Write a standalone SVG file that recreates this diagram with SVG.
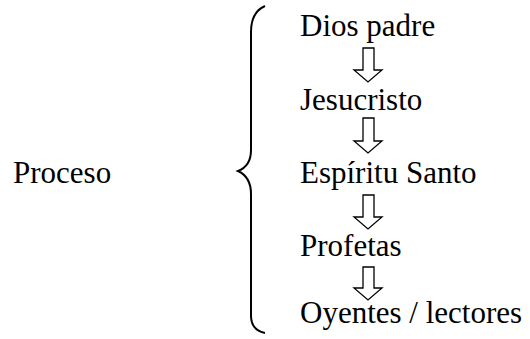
<svg xmlns="http://www.w3.org/2000/svg" width="530" height="339" viewBox="0 0 530 339">
<style>
text{font-family:'Liberation Serif','Times New Roman',Times,serif;font-size:31px;fill:#000}
.ar{fill:#fff;stroke:#000;stroke-width:1.3;stroke-linejoin:miter}
.br{fill:none;stroke:#000;stroke-width:2}
</style>
<rect width="530" height="339" fill="#fff"/>
<g id="proceso"><text x="13" y="183">Proceso</text></g>
<g id="brace"><path class="br" d="M265 6 Q251 12 251 32 L251 150 Q251 166 238 171 Q251 177 251 194 L251 316 Q251 330 265 333"/></g>
<g id="n1"><text x="300" y="36">Dios padre</text></g>
<g id="n2"><text x="300" y="110">Jesucristo</text></g>
<g id="n3"><text x="300" y="183">Espíritu Santo</text></g>
<g id="n4"><text x="300" y="256">Profetas</text></g>
<g id="n5"><text x="300" y="323">Oyentes / lectores</text></g>
<g id="connectors">
<path class="ar" d="M363 48 H374 V70 H382 L368 82 L354 70 H363 Z"/>
<path class="ar" d="M363 118 H374 V141 H382 L368 153 L354 141 H363 Z"/>
<path class="ar" d="M363 195 H374 V217 H382 L368 229 L354 217 H363 Z"/>
<path class="ar" d="M363 267 H374 V288 H382 L368 300 L354 288 H363 Z"/>
</g>
</svg>
